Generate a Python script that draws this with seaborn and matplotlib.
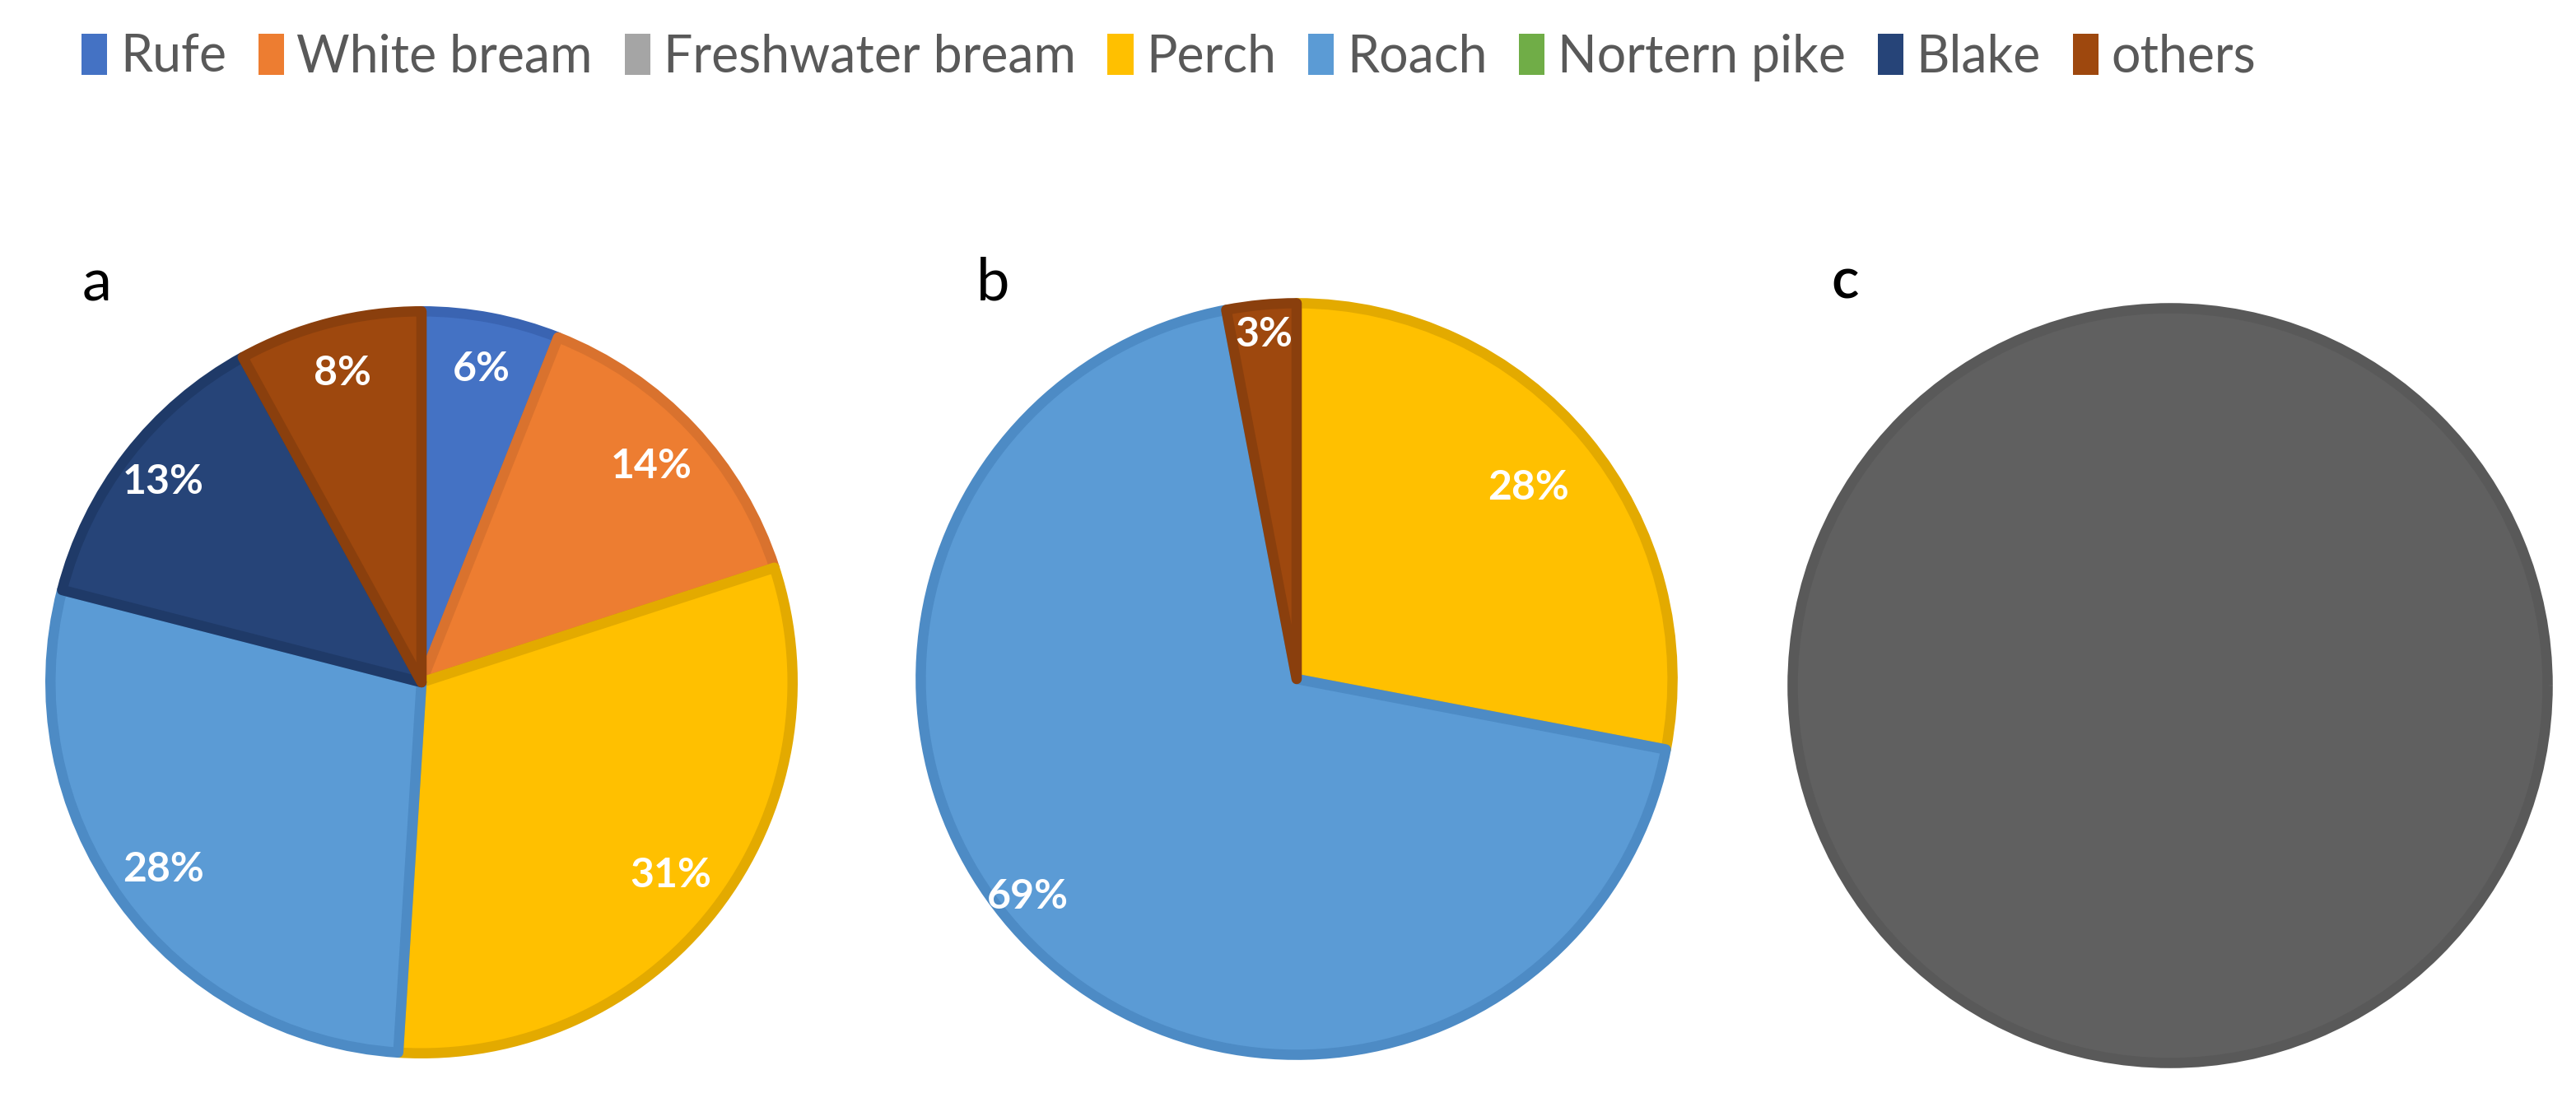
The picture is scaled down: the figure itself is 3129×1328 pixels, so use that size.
import matplotlib
matplotlib.use("Agg")
import matplotlib.pyplot as plt
from matplotlib.patches import Patch
import numpy as np
import seaborn as sns

# ---- data ----
species = ["Rufe", "White bream", "Freshwater bream", "Perch", "Roach",
           "Nortern pike", "Blake", "others"]
species_colors = ["#4472c4", "#ed7d31", "#a5a5a5", "#ffc000", "#5b9bd5",
                  "#70ad47", "#264478", "#9e480e"]
edge_colors = {"Rufe": "#3a64b2", "White bream": "#d9722e", "Freshwater bream": "#5a5a5a",
               "Perch": "#e3aa00", "Roach": "#4d8bc5", "Nortern pike": "#63993e",
               "Blake": "#1f3a68", "others": "#8a3f0d"}

a_labels = ["Rufe", "White bream", "Perch", "Roach", "Blake", "others"]
a_values = [6, 14, 31, 28, 13, 8]

b_labels = ["Perch", "Roach", "others"]
b_values = [28, 69, 3]

c_labels = ["Freshwater bream"]
c_values = [100]
c_color = "#606060"

panel_letters = ["a", "b", "c"]

sns.set_theme(style="white")
plt.rcParams["font.family"] = ["Lato", "DejaVu Sans"]

W, H = 3129, 1328
fig = plt.figure(figsize=(W / 100, H / 100), dpi=100)
fig.patch.set_facecolor("white")

pal = dict(zip(species, sns.color_palette(species_colors)))


def add_pie(cx, cy, r, labels, values, pct_radii, colors=None, ecolors=None,
            show_pct=True, angle_shift=None):
    ax = fig.add_axes([(cx - r) / W, (H - cy - r) / H, 2 * r / W, 2 * r / H])
    cols = colors if colors is not None else [pal[l] for l in labels]
    ecs = ecolors if ecolors is not None else [edge_colors[l] for l in labels]
    res = ax.pie(values, colors=cols, startangle=90, counterclock=False,
                 radius=1.0,
                 autopct=(lambda p: f"{p:.0f}%") if show_pct else None,
                 pctdistance=0.85,
                 wedgeprops=dict(linewidth=9, joinstyle="round"),
                 textprops=dict(color="white", fontsize=36, fontweight="bold"))
    wedges = res[0]
    for w, ec in zip(wedges, ecs):
        w.set_edgecolor(ec)
    if show_pct:
        for i, (w, t) in enumerate(zip(wedges, res[2])):
            mid = 0.5 * (w.theta1 + w.theta2)
            if angle_shift is not None:
                mid += angle_shift[i]
            rr = pct_radii[i]
            t.set_position((rr * np.cos(np.radians(mid)), rr * np.sin(np.radians(mid))))
    ax.set_xlim(-1.025, 1.025)
    ax.set_ylim(-1.025, 1.025)
    ax.set_aspect("equal")
    ax.axis("off")
    return ax


add_pie(512, 829, 462, a_labels, a_values, [0.86, 0.85, 0.85, 0.86, 0.88, 0.86])
add_pie(1575, 825, 468, b_labels, b_values, [0.80, 0.92, 0.92],
        angle_shift=[0, -6, 0])
add_pie(2636, 833, 470, c_labels, c_values, [0.8], colors=[c_color],
        ecolors=["#595959"], show_pct=False)

# panel letters
fig.text(100 / W, 1 - 366 / H, panel_letters[0], fontsize=52, color="black",
         ha="left", va="baseline")
fig.text(1186 / W, 1 - 364 / H, panel_letters[1], fontsize=52, color="black",
         ha="left", va="baseline")
fig.text(2224 / W, 1 - 362 / H, panel_letters[2], fontsize=50, color="black",
         fontweight="semibold", ha="left", va="baseline")

# legend
handles = [Patch(facecolor=pal[s], edgecolor="none", label=s) for s in species]
leg = fig.legend(handles=handles, loc="center left", ncol=len(species),
                 bbox_to_anchor=(74 / W, 1 - 70 / H), frameon=False,
                 fontsize=45, handlelength=0.5, handleheight=0.85,
                 handletextpad=0.25, columnspacing=0.62, borderaxespad=0)
for t in leg.get_texts():
    t.set_color("#595959")

fig.savefig("out.png", dpi=100, facecolor="white")
